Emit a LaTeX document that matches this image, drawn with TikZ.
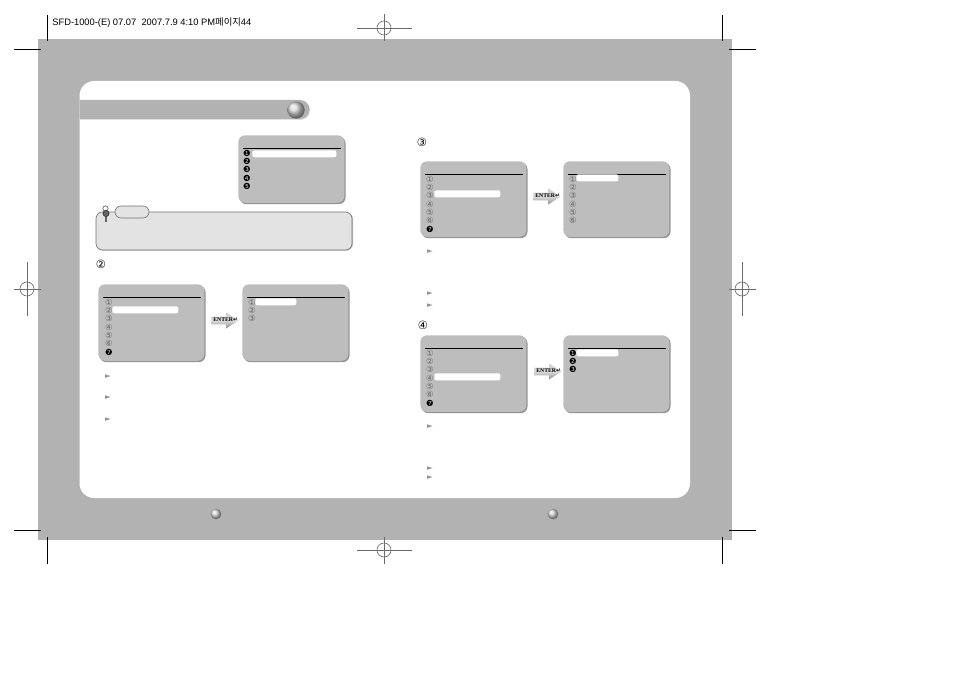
\documentclass[tikz,border=0pt]{standalone}
\usepackage{fontspec}
\setmainfont{Liberation Sans}
\newfontfamily\cjk{Noto Sans CJK KR}
\newfontfamily\symb{DejaVu Sans}
\newfontfamily\serifb{Liberation Serif}
\usetikzlibrary{arrows.meta, positioning, shapes.arrows, shadows}
\definecolor{cpage}{HTML}{B2B2B2}
\definecolor{cmenu}{HTML}{BDBDBD}
\definecolor{cnote}{HTML}{E3E3E3}
\definecolor{cmark}{HTML}{6B6B6B}
\tikzset{
  every picture/.style={line width=0.5pt},
  menupanel/.style={fill=cmenu, rounded corners=5pt, anchor=north west, inner sep=0pt, minimum width=79.5pt,
    general shadow={fill=black!42, shadow xshift=0.9pt, shadow yshift=-1pt}},
  menurule/.style={draw=black, line width=0.7pt},
  menunum/.style={font=\symb\fontsize{6.3}{7}\selectfont, inner sep=0pt},
  highlight/.style={fill=white, rounded corners=1.5pt, anchor=north west, inner sep=0pt},
  enterarrow/.style={single arrow, top color=black!20, bottom color=black!45, middle color=black!14, inner sep=0pt, text height=4.6pt, text depth=0pt,
    anchor=tail, minimum height=20.5pt, minimum width=12pt, single arrow head extend=2.7pt, single arrow tip angle=65},
  enterlabel/.style={anchor=west, inner sep=0pt, font=\serifb\bfseries\fontsize{4.3}{5}\selectfont},
  sphere/.style={circle, shading=ball, ball color=black!16, inner sep=0pt},
  regcircle/.style={circle, draw=cmark, minimum size=10.5pt, inner sep=0pt},
  regline/.style={draw=cmark, line width=0.5pt},
  cropline/.style={draw=black, line width=0.7pt},
  steplabel/.style={font=\symb\fontsize{8.5}{9}\selectfont, inner sep=0pt},
  pointer/.style={font=\symb\fontsize{5.5}{6}\selectfont, text=black!42, inner sep=0pt},
}
\begin{document}
\begin{tikzpicture}[x=0.75pt, y=-0.75pt]
  \useasboundingbox (0,0) rectangle (954,674);
  % page and panel
  \fill[cpage] (38,39) rectangle (732,540);
  \fill[white, rounded corners=11pt] (79.5,81) rectangle (690,498);
  \begin{scope}
    \clip (79.5,90) rectangle (320,130);
    \fill[black!12, rounded corners=7pt] (60,101) rectangle (310,120);
    \fill[cpage, rounded corners=7pt] (60,100) rectangle (309.5,119);
  \end{scope}
  \node[sphere, minimum size=13pt] (titleball) at (296,110) {};
  \node[sphere, minimum size=8pt] (pageballl) at (216,514) {};
  \node[sphere, minimum size=8pt] (pageballr) at (553,514) {};
  % printer marks
  \node[anchor=west, inner sep=0pt, font=\fontsize{7}{8}\selectfont] (slug) at (52,23) {SFD-1000-(E) 07.07 \ 2007.7.9 4:10 PM{\cjk 페이지}44};
  \foreach \x/\y/\xa/\xb/\ya/\yb in {384/28/357/412/14/41, 384/550/357/412/537/564,
                                     27/289/14/41/262/316, 742/289/729/756/262/316} {
    \node[regcircle] (reg\x\y) at (\x,\y) {};
    \draw[regline] (\xa,\y) -- (\xb,\y);
    \draw[regline] (\x,\ya) -- (\x,\yb);
  }
  \foreach \x/\ya/\yb in {47/15/41, 722/15/41, 47/537/564, 722/537/564}
    \draw[cropline] (\x,\ya) -- (\x,\yb);
  \foreach \y/\xa/\xb in {49/14/41, 530/14/41, 49/729/756, 530/729/756}
    \draw[cropline] (\xa,\y) -- (\xb,\y);
  % note box
  \fill[black!25, rounded corners=5pt] (96.5,212.5) rectangle (353,250.7);
  \filldraw[draw=black!55, fill=cnote, rounded corners=5pt] (96,212) rectangle (352,250);
  \filldraw[draw=black!55, fill=cnote, rounded corners=4.5pt] (115,206) rectangle (149,218);
  \draw[black!60, line width=0.8pt] (106,213) -- (106,222);
  \filldraw[draw=black!60, fill=white] (105.5,208.5) circle (2pt);
  \filldraw[draw=black!80, fill=black!60] (106,213.5) circle (2.3pt);
  % menus
  \foreach \name/\x/\y/\h in {menua/238/135/67.5, menub/98/284/76.5, menuc/242/284/76.5, menud/420/161/75.5,
                              menue/563/161/75.5, menuf/420/335/76.5, menug/563/335/76.5} {
    \node[menupanel, minimum height=\h*0.75pt] (\name) at (\x,\y) {};
    \draw[menurule] ([shift={(5,13)}]\name.north west) -- ([shift={(-4,13)}]\name.north east);
  }
  \foreach \name/\x/\y/\w in {hla/252/150/84, hlb/112/306/66, hlc/255/298/41, hld/434/190/66,
                              hle/576/174/42, hlf/434/373/66, hlg/576/349/42}
    \node[highlight, minimum width=\w*0.75pt, minimum height=5.2pt] (\name) at (\x,\y) {};
  % numbers, from the solid index on they are black
  \foreach \name/\x/\y/\lastnum/\solid in {a/247/135/5/1, b/109/284/7/7, c/252/284/3/4, d/430/161/7/7,
                                        e/573/161/6/7, f/430/335/7/7, g/573/335/3/1} {
    \foreach \i/\dy in {1/18,2/26,3/34.5,4/43,5/51,6/59,7/68} {
      \ifnum\i>\lastnum\else
        \pgfmathtruncatemacro\code{\i<\solid ? 9311+\i : 10101+\i}
        \pgfmathtruncatemacro\shadeval{\i<\solid ? 60 : 100}
        \node[menunum, text=black!\shadeval] (num\name\i) at (\x,\y+\dy) {\symbol{\code}};
      \fi
    }
  }
  % enter arrows
  \foreach \name/\x/\y in {entera/211/320.5, enterb/533/196.5, enterc/534/371.5} {
    \node[enterarrow] (\name) at (\x,\y) {};
    \node[enterlabel] (\name label) at (\x+2,\y-1) {ENTER{\symb ↵}};
  }
  % step labels
  \foreach \name/\x/\y/\lab in {stepb/101/264/②, stepc/422/142/③, stepd/423/325/④}
    \node[steplabel] (\name) at (\x,\y) {\lab};
  % pointers
  \foreach \x/\y [count=\n] in {108/377, 108/398, 108/420, 430/252, 430/294, 430/306, 430/427, 430/469, 430/478}
    \node[pointer] (ptr\n) at (\x,\y) {►};
\end{tikzpicture}
\end{document}
